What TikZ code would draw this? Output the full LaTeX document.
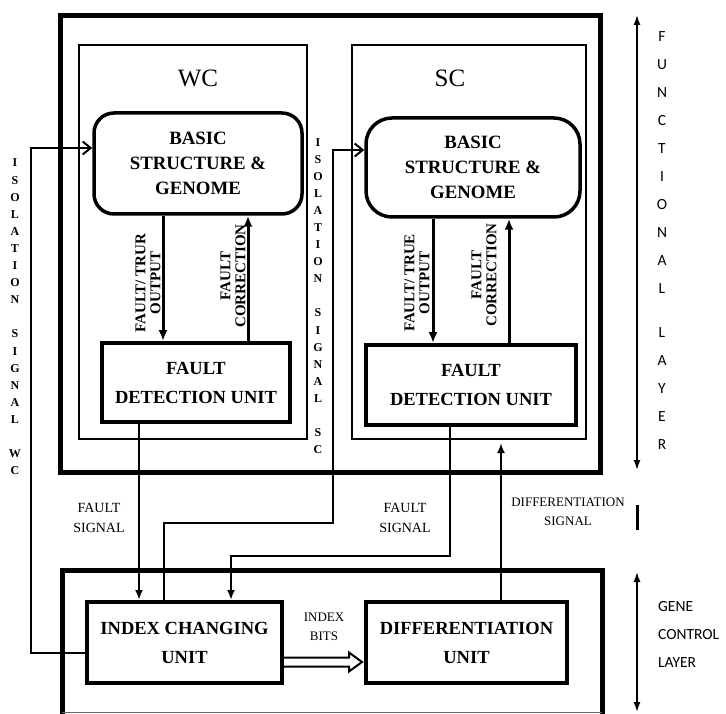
\documentclass[tikz,border=0pt]{standalone}
\usepackage{fontspec}
\setmainfont{Liberation Serif}
\newfontfamily\calib{Carlito}
\usetikzlibrary{arrows.meta,calc}
\begin{document}
\begin{tikzpicture}[x=1pt,y=-1pt,
  layerbox/.style={draw, line width=5pt, inner sep=0pt},
  cellbox/.style={draw, line width=2pt, inner sep=0pt},
  bsgbox/.style={draw, line width=3.5pt, rounded corners=20pt, align=center, inner sep=0pt,
    font=\bfseries\fontsize{18.8}{25}\selectfont},
  unitbox/.style={draw, line width=4pt, align=center, inner sep=0pt,
    font=\bfseries\fontsize{18.5}{29}\selectfont},
  titlelab/.style={font=\fontsize{25}{25}\selectfont, inner sep=0pt},
  vlab/.style={rotate=90, align=center, inner sep=0pt,
    font=\bfseries\fontsize{15}{15}\selectfont},
  siglab/.style={align=center, inner sep=0pt, font=\fontsize{14}{20}\selectfont},
  smalllab/.style={align=center, inner sep=0pt, font=\fontsize{13}{18.5}\selectfont},
  isolab/.style={align=center, inner sep=0pt, font=\bfseries\fontsize{12}{17.1}\selectfont},
  layerlab/.style={inner sep=0pt, font=\calib\fontsize{15.5}{28}\selectfont},
  thickarr/.style={line width=3pt, -{Latex[length=11pt,width=9pt]}},
  conn/.style={line width=2pt},
  connarr/.style={line width=2pt, -{Latex[length=10pt,width=8pt]}},
  isoarr/.style={line width=2pt, -{Straight Barb[length=8pt,width=13pt]}},
  layerarr/.style={line width=1.5pt, {Latex[length=10pt,width=7pt]}-{Latex[length=10pt,width=7pt]}}
]
\useasboundingbox (0,0) rectangle (726,714);

% layers and cells
\node[layerbox, minimum width=540pt, minimum height=456pt] (func) at (330,244) {};
\draw[line width=5pt] (62,716) -- (62,570) -- (602,570) -- (602,716);
\draw[line width=1pt, black!60] (62,712.5) -- (602,712.5);
\node[cellbox, minimum width=228pt, minimum height=394pt] (wc) at (193,242) {};
\node[cellbox, minimum width=234pt, minimum height=394pt] (sc) at (469,242) {};
\node[titlelab] (wct) at (198,78) {WC};
\node[titlelab] (sct) at (450,78) {SC};

% blocks
\node[bsgbox, minimum width=208pt, minimum height=101pt] (wcbsg) at (198,163.5) {BASIC\\STRUCTURE \&\\GENOME};
\node[bsgbox, rounded corners=26pt, minimum width=214pt, minimum height=99pt] (scbsg) at (473,167.5) {BASIC\\STRUCTURE \&\\GENOME};
\node[unitbox, minimum width=188pt, minimum height=79pt] (wcfdu) at (196,382.5) {FAULT\\DETECTION UNIT};
\node[unitbox, minimum width=210pt, minimum height=80pt] (scfdu) at (471,385) {FAULT\\DETECTION UNIT};
\node[unitbox, minimum width=195pt, minimum height=81pt] (icu) at (184.5,642.5) {INDEX CHANGING\\UNIT};
\node[unitbox, minimum width=201pt, minimum height=81pt] (du) at (466.5,642.5) {DIFFERENTIATION\\UNIT};

% helper coordinates
\coordinate (wcdn) at (163,0);
\coordinate (wcup) at (248,0);
\coordinate (scdn) at (433,0);
\coordinate (scup) at (509,0);
\coordinate (fwc) at (139,0);
\coordinate (iscA) at (164,523);
\coordinate (iscB) at (333,150);
\coordinate (iwcrow) at (0,653);
\coordinate (iwcC) at (31,148);
\coordinate (fscA) at (450,556);
\coordinate (fscB) at (231,556);
\coordinate (dif) at (501,443);
\coordinate (ibrow) at (0,662);
\coordinate (barT) at (637,505);
\coordinate (barB) at (637,530);
\coordinate (flT) at (637,15);
\coordinate (flB) at (637,470);
\coordinate (glT) at (637,572);
\coordinate (glB) at (637,712);

% inner arrows
\draw[thickarr] (wcbsg.south -| wcdn) -- (wcfdu.north -| wcdn);
\draw[thickarr] (wcfdu.north -| wcup) -- (wcbsg.south -| wcup);
\draw[thickarr] (scbsg.south -| scdn) -- (scfdu.north -| scdn);
\draw[thickarr] (scfdu.north -| scup) -- (scbsg.south -| scup);
\node[vlab] (wcfo) at (148,283) {FAULT/ TRUR\\OUTPUT};
\node[vlab] (wcfc) at (233,276) {FAULT\\CORRECTION};
\node[vlab] (scfo) at (417,283) {FAULT/ TRUE\\OUTPUT};
\node[vlab] (scfc) at (484,275) {FAULT\\CORRECTION};

% signals
\draw[connarr] (wcfdu.south -| fwc) -- (icu.north -| fwc);
\draw[isoarr] (icu.north -| iscA) -- (iscA) -| (iscB) -- (scbsg.west |- iscB);
\draw[isoarr] (icu.west |- iwcrow) -| (iwcC) -- (wcbsg.west |- iwcC);
\draw[connarr] (scfdu.south -| fscA) |- (fscB) -- (icu.north -| fscB);
\draw[connarr] (du.north -| dif) -- (dif);
\draw[line width=2pt, fill=white]
  ($(icu.east |- ibrow)+(0,-4.5)$) -- ($(du.west |- ibrow)+(-15,-4.5)$) -- ($(du.west |- ibrow)+(-15,-9.5)$)
  -- ($(du.west |- ibrow)+(-2,0)$) -- ($(du.west |- ibrow)+(-15,9.5)$) -- ($(du.west |- ibrow)+(-15,4.5)$)
  -- ($(icu.east |- ibrow)+(0,4.5)$);

\node[siglab] (fs1) at (99,518) {FAULT\\SIGNAL};
\node[siglab] (fs2) at (405,518) {FAULT\\SIGNAL};
\node[smalllab] (ib) at (324,627) {INDEX\\BITS};
\node[smalllab] (ds) at (568,512) {DIFFERENTIATION\\SIGNAL};

\node[isolab] (isowc) at (15,317) {I\\S\\O\\L\\A\\T\\I\\O\\N\\[17.1pt]S\\I\\G\\N\\A\\L\\[17.1pt]W\\C};
\node[isolab] (isosc) at (318,296) {I\\S\\O\\L\\A\\T\\I\\O\\N\\[16.9pt]S\\I\\G\\N\\A\\L\\[16.9pt]S\\C};

% layer markers
\draw[layerarr] (flT) -- (flB);
\draw[layerarr] (glT) -- (glB);
\draw[line width=3pt] (barT) -- (barB);
\node[layerlab, align=center] (fl) at (662,241) {F\\U\\N\\C\\T\\I\\O\\N\\A\\L\\[16pt]L\\A\\Y\\E\\R};
\node[layerlab, align=left, anchor=west] (gl) at (658,634) {GENE\\CONTROL\\LAYER};
\end{tikzpicture}
\end{document}
